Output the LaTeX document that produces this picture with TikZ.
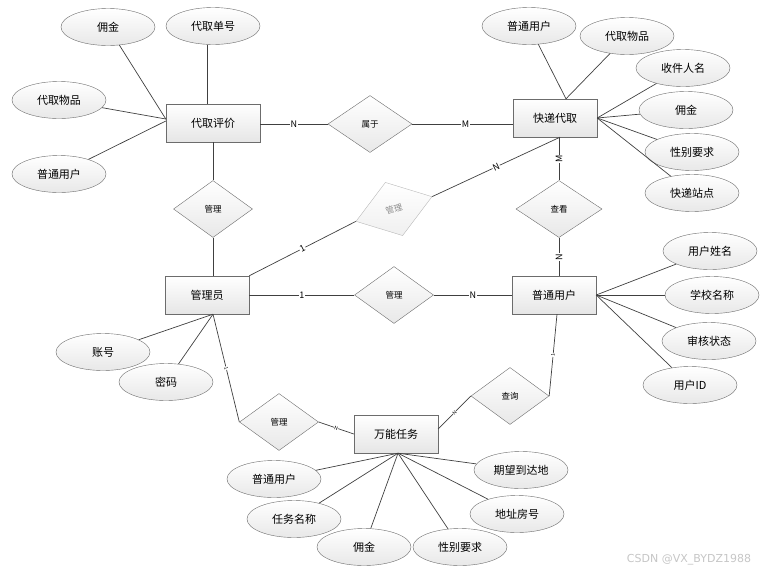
\documentclass[tikz,border=0pt]{standalone}
\usepackage{fontspec}
\setmainfont{Noto Sans CJK SC}
\newfontfamily\wmfont{DejaVu Sans}
\usetikzlibrary{shapes.geometric}

\begin{document}
\begin{tikzpicture}[x=1pt, y=-1pt,
  entity/.style={draw=gray!85!black, top color=white, bottom color=gray!20, minimum width=84pt, minimum height=38pt, inner sep=0pt, font=\fontsize{11}{13}\selectfont},
  attr/.style={ellipse, draw=gray!85!black, top color=white, bottom color=gray!18, minimum width=94pt, minimum height=37pt, inner sep=0pt, font=\fontsize{11}{13}\selectfont},
  rel/.style={diamond, draw=gray!85!black, top color=white, bottom color=gray!18, minimum width=79pt, minimum height=57pt, inner sep=0pt, font=\fontsize{8.5}{10}\selectfont},
  lab/.style={font=\fontsize{9}{10}\selectfont, inner sep=0.6pt, fill=white},
  tinylab/.style={font=\fontsize{5}{6}\selectfont, inner sep=0.3pt, fill=white, sloped},
  link/.style={draw=black!75, line width=0.7pt}]
\useasboundingbox (0,0) rectangle (769,574);

% entities
\node[entity, minimum width=94pt] (dqpj) at (213,123) {代取评价};
\node[entity] (kddq) at (555,118) {快递代取};
\node[entity] (gly) at (207,295) {管理员};
\node[entity] (ptyh) at (554,295) {普通用户};
\node[entity] (wnrw) at (396,434) {万能任务};

% relations
\node[rel, minimum width=84pt] (sy) at (370,124) {属于};
\node[rel] (gl1) at (213,209) {管理};
\node[rel, minimum width=86pt] (ck) at (559,209) {查看};
\node[rel] (gl2) at (394,295) {管理};
\node[rel] (gl3) at (279,422) {管理};
\node[rel, minimum width=78pt] (cx) at (510,396) {查询};
\node[rel, draw=gray!55, bottom color=gray!12, text=gray!90, rotate=18, minimum width=80pt, minimum height=56pt] (gl4) at (394,209) {管理};

% relation links
\draw[link] (dqpj.east |- sy) -- node[lab, pos=0.5]{N} (sy.west);
\draw[link] (sy.east) -- node[lab, pos=0.53]{M} (kddq.west |- sy);
\draw[link] (dqpj.south) -- (gl1.north);
\draw[link] (gl1.south) -- (gl1 |- gly.north);
\draw[link] (gly.east) -- node[lab]{1} (gl2.west);
\draw[link] (gl2.east) -- node[lab]{N} (ptyh.west);
\draw[link] (ck.south) -- node[lab, rotate=90]{N} (ck |- ptyh.north);
\draw[link] (ck.north) -- node[lab, rotate=90]{M} (ck |- kddq.south);
\draw[link] (gly.north east) -- node[lab, rotate=27]{1} (gl4.west);
\draw[link] (gl4.east) -- node[lab, rotate=25]{N} ([xshift=5pt]kddq.south);
\draw[link] ([xshift=6pt]gly.south) -- node[tinylab]{1} (gl3.west);
\draw[link] (gl3.east) -- node[tinylab]{N} (wnrw.west);
\draw[link] ([yshift=5pt]wnrw.east) -- node[tinylab]{N} (cx.west);
\draw[link] (cx.east) -- node[tinylab]{1} ([xshift=3pt]ptyh.south);

% attributes of 代取评价
\node[attr] (yj1) at (108,27) {佣金};
\node[attr] (dqdh) at (213,26) {代取单号};
\node[attr] (dqwp1) at (59,100) {代取物品};
\node[attr] (ptyh1) at (59,174) {普通用户};
\draw[link] (yj1) -- ([yshift=4pt]dqpj.west);
\draw[link] (dqwp1) -- ([yshift=4pt]dqpj.west);
\draw[link] (ptyh1) -- ([yshift=2pt]dqpj.west);
\draw[link] ([xshift=-6pt]dqdh.south) -- ([xshift=-6pt]dqpj.north);

% attributes of 快递代取
\node[attr] (ptyh2) at (529,26) {普通用户};
\node[attr] (dqwp2) at (627,36) {代取物品};
\node[attr] (sjrm) at (683,68) {收件人名};
\node[attr] (yj2) at (686,110) {佣金};
\node[attr] (xbyq1) at (692,152) {性别要求};
\node[attr] (kdzd) at (692,193) {快递站点};
\draw[link] (ptyh2) -- ([xshift=11pt]kddq.north);
\draw[link] (dqwp2) -- ([xshift=11pt]kddq.north);
\draw[link] (sjrm) -- (kddq.east);
\draw[link] (yj2) -- (kddq.east);
\draw[link] (xbyq1) -- (kddq.east);
\draw[link] (kdzd) -- (kddq.east);

% attributes of 普通用户
\node[attr] (yhxm) at (710,251) {用户姓名};
\node[attr] (xxmc) at (712,295) {学校名称};
\node[attr] (shzt) at (709,341) {审核状态};
\node[attr] (yhid) at (690,385) {用户ID};
\draw[link] (yhxm) -- (ptyh.east);
\draw[link] (xxmc) -- (ptyh.east);
\draw[link] (shzt) -- (ptyh.east);
\draw[link] (yhid) -- (ptyh.east);

% attributes of 管理员
\node[attr] (zh) at (103,352) {账号};
\node[attr] (mm) at (166,382) {密码};
\draw[link] (zh) -- ([xshift=6pt]gly.south);
\draw[link] (mm) -- ([xshift=6pt]gly.south);

% attributes of 万能任务
\node[attr] (ptyh3) at (274,479) {普通用户};
\node[attr] (rwmc) at (294,519) {任务名称};
\node[attr] (yj3) at (364,547) {佣金};
\node[attr] (xbyq2) at (460,547) {性别要求};
\node[attr] (dzfh) at (517,514) {地址房号};
\node[attr] (qwddd) at (521,470) {期望到达地};
\draw[link] (ptyh3) -- ([xshift=2pt]wnrw.south);
\draw[link] (rwmc) -- ([xshift=2pt]wnrw.south);
\draw[link] (yj3) -- ([xshift=2pt]wnrw.south);
\draw[link] (xbyq2) -- ([xshift=2pt]wnrw.south);
\draw[link] (dzfh) -- ([xshift=2pt]wnrw.south);
\draw[link] (qwddd) -- ([xshift=2pt]wnrw.south);

\node[text=gray!45, font=\wmfont\fontsize{11}{13}\selectfont] (wm) at (689,560) {CSDN @VX\_BYDZ1988};
\end{tikzpicture}
\end{document}
